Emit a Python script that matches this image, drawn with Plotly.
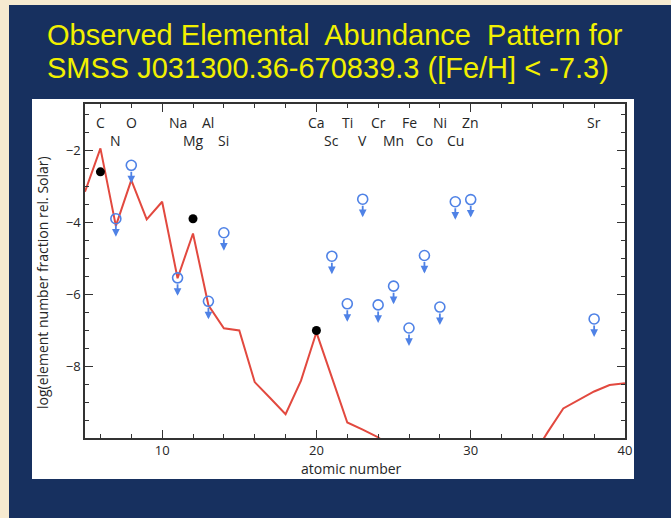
import plotly.graph_objects as go

# model abundance curve (red line), atomic number 5..40; None = below plot
model_z = list(range(5, 41))
model_val = [-3.15, -1.95, -4.10, -2.83, -3.92, -3.43, -5.55, -4.31, -6.30, -6.94,
             -7.00, -8.43, -8.87, -9.32, -8.39, -7.05, -8.30, -9.55, -9.75, -9.96,
             -10.30, None, None, None, None, None, None, None, None, -10.50,
             -9.81, -9.16, -8.93, -8.69, -8.51, -8.46]

# measured abundances (filled black)
det_z = [6, 12, 20]
det_val = [-2.60, -3.90, -7.00]

# upper limits (open blue circles with arrows)
lim_z = [7, 8, 11, 13, 14, 21, 22, 23, 24, 25, 26, 27, 28, 29, 30, 38]
lim_val = [-3.90, -2.42, -5.54, -6.19, -4.29, -4.94, -6.26, -3.36, -6.29, -5.77,
           -6.93, -4.92, -6.35, -3.43, -3.37, -6.68]

# element names along the top, two rows
row1_z = [6, 8, 11, 13, 20, 22, 24, 26, 28, 30, 38]
row1_lab = ["C", "O", "Na", "Al", "Ca", "Ti", "Cr", "Fe", "Ni", "Zn", "Sr"]
row2_z = [7, 12, 14, 21, 23, 25, 27, 29]
row2_lab = ["N", "Mg", "Si", "Sc", "V", "Mn", "Co", "Cu"]

title_lines = ["Observed Elemental&nbsp; Abundance&nbsp; Pattern for",
               "SMSS J031300.36-670839.3 ([Fe/H] &lt; -7.3)"]

W, H = 671, 518
L, R, T, B = 85, 625, 104, 438   # plot area in pixels


def px(x):
    return (x - L) / (R - L)


def py(y):
    return (B - y) / (B - T)


RED = "#e2493f"
BLUE = "#4f82e6"
INK = "#262626"
FONT = "Open Sans"

fig = go.Figure()
fig.add_trace(go.Scatter(x=model_z, y=model_val, mode="lines",
                         line=dict(color=RED, width=2), connectgaps=False,
                         showlegend=False))
fig.add_trace(go.Scatter(x=lim_z, y=lim_val, mode="markers",
                         marker=dict(symbol="circle-open", size=10, color=BLUE,
                                     line=dict(width=1.6, color=BLUE)),
                         showlegend=False))
fig.add_trace(go.Scatter(x=det_z, y=det_val, mode="markers",
                         marker=dict(symbol="circle", size=9, color="black"),
                         showlegend=False))

annotations = []
for z, v in zip(lim_z, lim_val):
    # arrow from the bottom of the circle down to the tip
    annotations.append(dict(x=z, y=v, xref="x", yref="y", text="", showarrow=True,
                            ax=0, ay=-13, yshift=-18, arrowhead=2, arrowsize=0.85,
                            arrowwidth=1.8, arrowcolor=BLUE, standoff=0))
for z, lab in zip(row1_z, row1_lab):
    annotations.append(dict(x=z, y=py(123), xref="x", yref="paper", text=lab,
                            xanchor="center", yanchor="middle", showarrow=False,
                            font=dict(family=FONT, size=14, color=INK)))
for z, lab in zip(row2_z, row2_lab):
    annotations.append(dict(x=z, y=py(140), xref="x", yref="paper", text=lab,
                            xanchor="center", yanchor="middle", showarrow=False,
                            font=dict(family=FONT, size=14, color=INK)))
for i, line in enumerate(title_lines):
    annotations.append(dict(x=px(45), y=py(35 + 33 * i), xref="paper", yref="paper",
                            xanchor="left", yanchor="middle", text=line, showarrow=False,
                            font=dict(family="Liberation Sans", size=29, color="#f2f000")))
annotations.append(dict(x=px(42), y=py(283), xref="paper", yref="paper",
                        xanchor="center", yanchor="middle",
                        text="log(element number fraction rel. Solar)", textangle=-90,
                        showarrow=False, font=dict(family=FONT, size=14, color=INK)))
annotations.append(dict(x=px(351), y=py(469), xref="paper", yref="paper",
                        xanchor="center", yanchor="middle",
                        text="atomic number", showarrow=False,
                        font=dict(family=FONT, size=14, color=INK)))

shapes = [
    dict(type="rect", xref="paper", yref="paper", x0=px(9), x1=px(W + 5), y0=py(H + 5), y1=py(5),
         fillcolor="#17305f", line=dict(width=0), layer="below"),
    dict(type="rect", xref="paper", yref="paper", x0=px(32), x1=px(634), y0=py(479), y1=py(99),
         fillcolor="white", line=dict(width=0), layer="below"),
]

axis_common = dict(showline=True, linecolor="#333333", linewidth=1.5, mirror="ticks",
                   ticks="inside", ticklen=8, tickwidth=1.3, tickcolor="#333333",
                   showgrid=False, zeroline=False,
                   tickfont=dict(family=FONT, size=13, color=INK))

fig.update_xaxes(range=[5, 40], tick0=0, dtick=10,
                 minor=dict(ticks="inside", dtick=2, tick0=0, ticklen=4, tickcolor="#333333"),
                 **axis_common)
fig.update_yaxes(range=[-9.98, -0.72], tick0=0, dtick=2,
                 minor=dict(ticks="inside", dtick=0.5, tick0=0, ticklen=4, tickcolor="#333333"),
                 **axis_common)

fig.update_layout(width=W, height=H, margin=dict(l=L, r=W - R, t=T, b=H - B),
                  paper_bgcolor="#f6ead0", plot_bgcolor="white",
                  shapes=shapes, annotations=annotations, showlegend=False)

# drop the page's default body margin so the figure sits at the top-left corner
fig.write_html("out.html", config={"displayModeBar": False},
               post_script="document.body.style.margin='0';")
